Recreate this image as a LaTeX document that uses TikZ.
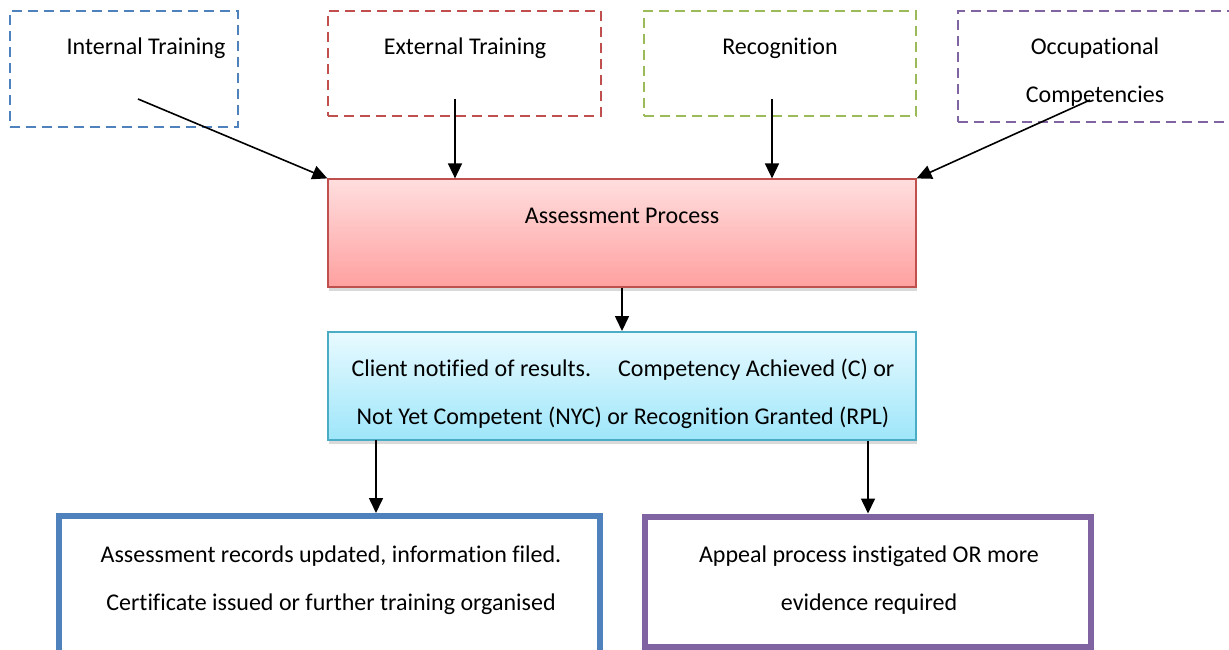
\documentclass[tikz,border=0pt]{standalone}
\usepackage{fontspec}
\setmainfont{Carlito}[Ligatures=NoCommon]
\usepackage{tikz}
\usetikzlibrary{arrows.meta,shadows}
\definecolor{boxblue}{RGB}{79,129,189}
\definecolor{boxred}{RGB}{192,80,77}
\definecolor{boxgreen}{RGB}{155,187,89}
\definecolor{boxpurple}{RGB}{128,100,162}
\definecolor{boxcyan}{RGB}{75,172,198}
\definecolor{pinktop}{RGB}{255,222,222}
\definecolor{pinkbot}{RGB}{255,160,160}
\definecolor{cyantop}{RGB}{232,250,255}
\definecolor{cyanbot}{RGB}{158,230,250}

\begin{document}
\begin{tikzpicture}[x=0.5pt,y=-0.5pt,
    font=\fontsize{12}{24}\selectfont,
    dashbox/.style={draw=#1,line width=1pt,dash pattern=on 5pt off 3pt,inner sep=0pt},
    shadebox/.style 2 args={draw=#1,top color=#2top,bottom color=#2bot,inner sep=0pt,
      minimum width=294pt,minimum height=54pt,
      drop shadow={shadow xshift=0.5pt,shadow yshift=-2pt,opacity=0.3}},
    thickbox/.style={draw=#1,line width=3pt,fill=white,inner sep=0pt},
    txt/.style={inner sep=0pt,align=center},
    arr/.style={-{Triangle[length=7.5pt,width=7pt]},line width=0.8pt}]
  \useasboundingbox (0,0) rectangle (1229,649);

  \node[dashbox=boxblue,minimum width=114pt,minimum height=58pt] (intern) at (124,69) {};
  \node[dashbox=boxred,minimum width=136.5pt,minimum height=52.5pt] (extern) at (464.5,63.5) {};
  \node[dashbox=boxgreen,minimum width=136pt,minimum height=52.5pt] (recog) at (780,63.5) {};
  \node[dashbox=boxpurple,minimum width=138pt,minimum height=55.5pt] (occup) at (1096,66.5) {};

  \node[shadebox={boxred,line width=0.6pt}{pink}] (assess) at (622,233) {};
  \node[shadebox={boxcyan,line width=1pt}{cyan}] (client) at (622,386) {};

  \node[thickbox=boxblue,minimum width=270.5pt,minimum height=72pt] (records) at (329.5,588) {};
  \node[thickbox=boxpurple,minimum width=223pt,minimum height=65pt] (appeal) at (868,581.5) {};

  \node[txt] (internlbl) at (146,48) {Internal Training};
  \node[txt] (externlbl) at (465,48) {External Training};
  \node[txt] (recoglbl) at (780,48) {Recognition};
  \node[txt] (occuplbl) at (1095,72) {Occupational\\Competencies};
  \node[txt] (assesslbl) at (622,216) {Assessment Process};
  \node[txt] (clientlbl) at (623,394)
    {Client notified of results.\hspace{13.5pt}Competency Achieved (C) or\\
     Not Yet Competent (NYC) or Recognition Granted (RPL)};
  \node[txt] (recordslbl) at (331,580)
    {Assessment records updated, information filed.\\
     Certificate issued or further training organised};
  \node[txt] (appeallbl) at (869,580) {Appeal process instigated OR more\\evidence required};

  \coordinate (internsrc) at (138,99);
  \coordinate (externsrc) at (455,99);
  \coordinate (recogsrc) at (772,99);
  \coordinate (occupsrc) at (1090,100);
  \coordinate (passsrc) at (376,440);

  \draw[arr] (internsrc) -- (assess.north west);
  \draw[arr] (externsrc) -- (externsrc |- assess.north);
  \draw[arr] (recogsrc) -- (recogsrc |- assess.north);
  \draw[arr] (occupsrc) -- (assess.north east);
  \draw[arr] (assess.south) -- (client.north);
  \draw[arr] (passsrc) -- (passsrc |- records.north);
  \draw[arr] (client.south -| appeal.north) -- (appeal.north);
\end{tikzpicture}
\end{document}
